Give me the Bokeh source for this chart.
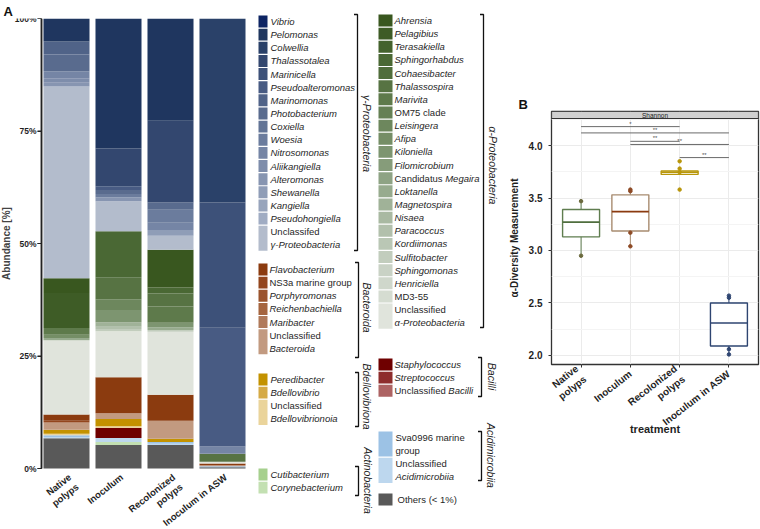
import math
from bokeh.plotting import figure
from bokeh.layouts import row
from bokeh.models import ColumnDataSource, FixedTicker, Range1d, LinearAxis
from bokeh.core.properties import value
from bokeh.embed import file_html
from bokeh.resources import INLINE

FONT = "Liberation Sans"
TXT = "#1f1f1f"
H = 529
ROT = 0.66  # tick label rotation (rad)

# ------------------------------------------------------------------ data
samples = ["Native\npolyps", "Inoculum", "Recolonized\npolyps", "Inoculum in ASW"]
abundance_ticks = [0, 25, 50, 75, 100]
abundance_tick_labels = ["0%", "25%", "50%", "75%", "100%"]

gamma_name = "γ-Proteobacteria"
gamma_labels = ["*Vibrio*", "*Pelomonas*", "*Colwellia*", "*Thalassotalea*", "*Marinicella*",
                "*Pseudoalteromonas*", "*Marinomonas*", "*Photobacterium*", "*Coxiella*", "*Woesia*",
                "*Nitrosomonas*", "*Aliikangiella*", "*Alteromonas*", "*Shewanella*", "*Kangiella*",
                "*Pseudohongiella*", "Unclassifed|*γ-Proteobacteria*"]
gamma_colors = ["#0d2463", "#1f365f", "#2a4169", "#33476f", "#3d5179", "#485b83", "#506388", "#596b8e",
                "#627496", "#6b7c9d", "#7585a5", "#7e8dab", "#8795b1", "#8f9db7", "#97a4bc", "#a0acc3",
                "#b3bccc"]

alpha_name = "α-Proteobacteria"
alpha_labels = ["*Ahrensia*", "*Pelagibius*", "*Terasakiella*", "*Sphingorhabdus*", "*Cohaesibacter*",
                "*Thalassospira*", "*Marivita*", "OM75 clade", "*Leisingera*", "*Afipa*", "*Kiloniella*",
                "*Filomicrobium*", "Candidatus *Megaira*", "*Loktanella*", "*Magnetospira*", "*Nisaea*",
                "*Paracoccus*", "*Kordiimonas*", "*Sulfitobacter*", "*Sphingomonas*", "*Henriciella*",
                "MD3-55", "Unclassified|*α-Proteobacteria*"]
alpha_colors = ["#39571f", "#3e5c26", "#44622d", "#4a6834", "#506d3b", "#577343", "#5e7a4b", "#658054",
                "#6d875d", "#758e66", "#7d9570", "#869c7a", "#8ea384", "#97ab8e", "#a0b298", "#a9b9a2",
                "#b2c0ac", "#bac7b5", "#c2cdbd", "#c9d2c5", "#cfd7cb", "#d5dcd1", "#e0e4dc"]

bacteroida_name = "Bacteroida"
bacteroida_labels = ["*Flavobacterium*", "NS3a marine group", "*Porphyromonas*", "*Reichenbachiella*",
                     "*Maribacter*", "Unclassified|*Bacteroida*"]
bacteroida_colors = ["#8b3b0f", "#93461d", "#9b542d", "#a5653f", "#b07a5a", "#c29a80"]

bdello_name = "Bdellovibriona"
bdello_labels = ["*Peredibacter*", "*Bdellovibrio*", "Unclassified|*Bdellovibrionoia*"]
bdello_colors = ["#c39200", "#d5aa45", "#ead49b"]

actino_name = "Actinobacteria"
actino_labels = ["*Cutibacterium*", "*Corynebacterium*"]
actino_colors = ["#a6d08e", "#c3e0b2"]

bacilli_name = "Bacilli"
bacilli_labels = ["*Staphylococcus*", "*Streptococcus*", "Unclassified *Bacilli*"]
bacilli_colors = ["#6f0000", "#8e2d2d", "#ad6363"]

acidi_name = "Acidimicrobiia"
acidi_labels = ["Sva0996 marine|group", "Unclassified|*Acidimicrobiia*"]
acidi_colors = ["#9cc2e5", "#bdd7ee"]

others_name = "Others"
others_labels = ["Others (< 1%)"]
others_colors = ["#595959"]

# relative abundance (%) per sample
native_polyps = {
    "Pelomonas": 5.1, "Marinomonas": 2.9, "Photobacterium": 3.8, "Nitrosomonas": 1.5,
    "Aliikangiella": 1.0, "Alteromonas": 0.8, "Unclassifed γ-Proteobacteria": 42.6,
    "Ahrensia": 3.3, "Pelagibius": 7.8, "Marivita": 1.5, "Afipa": 0.7, "Loktanella": 0.5,
    "Unclassified α-Proteobacteria": 16.5,
    "Flavobacterium": 1.4, "NS3a marine group": 0.4, "Unclassified Bacteroida": 1.6,
    "Peredibacter": 0.9, "Unclassified Bdellovibrionoia": 0.3,
    "Sva0996 marine group": 0.4, "Unclassified Acidimicrobiia": 0.3,
    "Others (< 1%)": 6.7}
inoculum = {
    "Pelomonas": 28.9, "Thalassotalea": 8.4, "Pseudoalteromonas": 0.8, "Photobacterium": 0.9,
    "Woesia": 0.8, "Alteromonas": 0.8, "Unclassifed γ-Proteobacteria": 6.7,
    "Sphingorhabdus": 10.2, "Thalassospira": 4.9, "Leisingera": 2.4, "Kiloniella": 2.7,
    "Magnetospira": 1.0, "Paracoccus": 0.5, "Sulfitobacter": 0.5,
    "Unclassified α-Proteobacteria": 10.2,
    "Flavobacterium": 8.0, "Unclassified Bacteroida": 1.3,
    "Peredibacter": 1.6, "Unclassified Bdellovibrionoia": 0.4,
    "Staphylococcus": 2.2, "Unclassified Acidimicrobiia": 0.9, "Corynebacterium": 0.7,
    "Others (< 1%)": 5.2}
recolonized_polyps = {
    "Pelomonas": 22.7, "Thalassotalea": 18.2, "Photobacterium": 1.6, "Woesia": 2.9,
    "Nitrosomonas": 1.6, "Shewanella": 1.3, "Unclassifed γ-Proteobacteria": 3.1,
    "Ahrensia": 8.4, "Sphingorhabdus": 1.3, "Thalassospira": 2.9, "Marivita": 3.6,
    "Kiloniella": 1.0, "Loktanella": 0.6, "Sulfitobacter": 0.4,
    "Unclassified α-Proteobacteria": 14.0,
    "Flavobacterium": 5.8, "Unclassified Bacteroida": 4.0,
    "Peredibacter": 0.7, "Sva0996 marine group": 0.4, "Unclassified Acidimicrobiia": 0.3,
    "Others (< 1%)": 5.2}
inoculum_asw = {
    "Colwellia": 40.9, "Marinicella": 27.8, "Pseudoalteromonas": 26.4, "Nitrosomonas": 1.6,
    "Thalassospira": 1.8, "Unclassified α-Proteobacteria": 0.4,
    "Flavobacterium": 0.4, "Unclassified Bacteroida": 0.2,
    "Sva0996 marine group": 0.2, "Others (< 1%)": 0.3}
sample_data = [native_polyps, inoculum, recolonized_polyps, inoculum_asw]

# Shannon alpha diversity (panel B)
box_q1 = [3.13, 3.185, 3.725, 2.09]
box_median = [3.27, 3.37, 3.745, 2.31]
box_q3 = [3.39, 3.53, 3.757, 2.50]
whisker_lo = [2.95, 3.04, 3.725, 2.02]
whisker_hi = [3.47, 3.58, 3.757, 2.57]
point_group = [0, 0, 1, 1, 1, 1, 2, 2, 2, 2, 3, 3, 3, 3]
point_value = [3.47, 2.95, 3.58, 3.565, 3.17, 3.04, 3.85, 3.78, 3.745, 3.58, 2.57, 2.55, 2.06, 2.01]
sig_from = [0, 0, 1, 1, 2]
sig_to = [2, 3, 2, 3, 3]
sig_level = [4.18, 4.12, 4.04, 4.01, 3.885]
sig_text = ["*", "**", "**", "**", "**"]
box_line_colors = ["#5f7d4f", "#a88c70", "#b8960a", "#2e4571"]
box_median_colors = ["#4f6e3e", "#8b3a0f", "#b8960a", "#2e4571"]
point_colors = ["#6b6a3e", "#8e4a25", "#b8960a", "#2e4571"]

# ------------------------------------------------------------------ helpers
W = {}
for chars, w in [("abdeghnopqu0123456789", 556), ("ck svxyz", 500), ("fjt", 278), ("il", 222),
                 ("m", 833), ("r-()", 333), ("w", 722), ("ABEKPSVXY", 667), ("CDHNRU", 722),
                 ("FTZ", 611), ("GOQ", 778), ("I", 278), ("J", 500), ("L", 556), ("M", 833), ("W", 944),
                 ("%", 889), ("<", 584)]:
    for c in chars:
        W[c] = w
W[" "] = 278


def text_width(s, size):
    return sum(W.get(c, 556) for c in s) * size / 1000.0


def plain(label):
    return label.replace("*", "").replace("|", " ")


def parse(label):
    out = []
    for line in label.split("|"):
        parts = line.split("*")
        out.append([(t, "italic" if i % 2 else "normal") for i, t in enumerate(parts) if t])
    return out


groups = [
    (gamma_name, gamma_labels, gamma_colors),
    (bacteroida_name, bacteroida_labels, bacteroida_colors),
    (bdello_name, bdello_labels, bdello_colors),
    (actino_name, actino_labels, actino_colors),
    (alpha_name, alpha_labels, alpha_colors),
    (bacilli_name, bacilli_labels, bacilli_colors),
    (acidi_name, acidi_labels, acidi_colors),
    (others_name, others_labels, others_colors),
]
# stacking order bottom -> top
stack_order = [others_name, actino_name, acidi_name, bacilli_name, bdello_name, bacteroida_name,
               alpha_name, gamma_name]
gmap = {g[0]: g for g in groups}
stackers, stack_colors = [], []
for gname in stack_order:
    _, labels, colors = gmap[gname]
    for lab, col in reversed(list(zip(labels, colors))):
        stackers.append(plain(lab))
        stack_colors.append(col)

# ------------------------------------------------------------------ panel A
src = {"x": list(range(len(samples)))}
for name in stackers:
    src[name] = [d.get(name, 0.0) for d in sample_data]
source = ColumnDataSource(src)

AW = 258
A_TOP = 18                  # frame top (px)
PX_PER_PCT = 4.5            # 100 % -> 450 px
PX_PER_BAR = 52.0           # bar pitch
FIRST_BAR_PX = 66.0
AXIS_PX = 41.0
a_y0 = -(H - A_TOP - 100 * PX_PER_PCT) / PX_PER_PCT
a_x0 = -FIRST_BAR_PX / PX_PER_BAR
a_x1 = a_x0 + AW / PX_PER_BAR
axis_x = a_x0 + AXIS_PX / PX_PER_BAR

pA = figure(width=AW, height=H, x_range=Range1d(a_x0, a_x1), y_range=Range1d(a_y0, 100),
            output_backend="svg", toolbar_location=None, min_border_left=0, min_border_right=0,
            min_border_top=A_TOP, min_border_bottom=0, title="A")
pA.frame_align = False
pA.title.align = "left"
pA.title.offset = 3
pA.title.standoff = 0
pA.title.text_font = FONT
pA.title.text_font_size = "13px"
pA.title.text_font_style = "bold"
pA.title.text_color = "#111111"
pA.vbar_stack(stackers, x="x", width=0.885, color=stack_colors, line_color=None, source=source)
pA.xaxis.visible = False
pA.xgrid.visible = False
pA.ygrid.visible = False
pA.outline_line_color = None
ya = pA.yaxis[0]
ya.fixed_location = axis_x
ya.bounds = (0, 100)
ya.ticker = FixedTicker(ticks=abundance_ticks)
ya.major_label_overrides = dict(zip(abundance_ticks, abundance_tick_labels))
ya.axis_label = "Abundance [%]"
ya.axis_label_text_font = FONT
ya.axis_label_text_font_style = "bold"
ya.axis_label_text_font_size = "10px"
ya.axis_label_standoff = 0
ya.major_label_text_font = FONT
ya.major_label_text_font_style = "bold"
ya.major_label_text_font_size = "8.5px"
ya.major_label_text_color = TXT
ya.major_label_standoff = 1
ya.axis_line_width = 1.5
ya.axis_line_color = "#222222"
ya.major_tick_out = 4
ya.major_tick_in = 0
ya.major_tick_line_color = "#222222"
ya.minor_tick_line_color = None
# axis rule and tick marks (explicit, so they always show next to the fixed-location axis)
tick_len = 4.0 / PX_PER_BAR
pA.segment(x0=[axis_x], x1=[axis_x], y0=[abundance_ticks[0]], y1=[abundance_ticks[-1]],
           line_color="#222222", line_width=1.5)
pA.segment(x0=[axis_x - tick_len] * len(abundance_ticks), x1=[axis_x] * len(abundance_ticks),
           y0=abundance_ticks, y1=abundance_ticks, line_color="#222222", line_width=1.2)

pA.text(x=list(range(len(samples))), y=[-3.0 / PX_PER_PCT] * len(samples), text=samples,
        angle=ROT, text_align="right", text_baseline="top", text_font=value(FONT),
        text_font_style="bold", text_font_size=value("9.5px"), text_color=TXT,
        text_line_height=1.1)

# ------------------------------------------------------------------ legend
LAYOUT = {
    gamma_name: dict(sw=(254, 267), tx=270, y0=21, bx=357, by=(14, 250), lab=(366, 133)),
    bacteroida_name: dict(sw=(254, 267), tx=269, y0=269, bx=358, by=(262, 357), lab=(366, 307)),
    bdello_name: dict(sw=(254, 267), tx=270, y0=379, bx=358, by=(372, 426), lab=(366, 396)),
    actino_name: dict(sw=(254, 267), tx=270, y0=474, bx=358, by=(466, 495), lab=(367, 480)),
    alpha_name: dict(sw=(378, 392), tx=394, y0=20, bx=483, by=(14, 327), lab=(492, 165)),
    bacilli_name: dict(sw=(378, 392), tx=394, y0=364, bx=481, by=(357, 396), lab=(491, 376)),
    acidi_name: dict(sw=(378, 392), tx=395, y0=437, bx=481, by=(431, 480), lab=(490, 455)),
    others_name: dict(sw=(378, 392), tx=397, y0=499, bx=None),
}
PITCH = 13.14
FS = 9.5
LX0, LX1 = AW, 505

pL = figure(width=LX1 - LX0, height=H, x_range=Range1d(LX0, LX1), y_range=Range1d(H, 0),
            output_backend="svg", toolbar_location=None, x_axis_type=None, y_axis_type=None,
            min_border=0)
pL.frame_align = False
pL.outline_line_color = None
sw = dict(left=[], right=[], top=[], bottom=[], color=[])
tx = dict(x=[], y=[], text=[], style=[])
br_xs, br_ys = [], []
gl = dict(x=[], y=[], text=[])
for gname, labels, colors in groups:
    L = LAYOUT[gname]
    r = 0
    for lab, col in zip(labels, colors):
        lines = parse(lab)
        n = len(lines)
        yc = L["y0"] + r * PITCH
        sw["left"].append(L["sw"][0]); sw["right"].append(L["sw"][1])
        sw["top"].append(yc - PITCH / 2 + 0.6); sw["bottom"].append(yc - PITCH / 2 + n * PITCH - 0.6)
        sw["color"].append(col)
        for k, runs in enumerate(lines):
            xo = L["tx"]
            for t, st in runs:
                tx["x"].append(xo); tx["y"].append(yc + k * PITCH)
                tx["text"].append(t); tx["style"].append(st)
                xo += text_width(t, FS)
        r += n
    if L["bx"] is not None:
        bx, (b0, b1) = L["bx"], L["by"]
        br_xs.append([bx - 3.5, bx, bx, bx - 3.5]); br_ys.append([b0, b0, b1, b1])
        gl["x"].append(L["lab"][0]); gl["y"].append(L["lab"][1]); gl["text"].append(gname)

pL.quad(source=ColumnDataSource(sw), left="left", right="right", top="top", bottom="bottom",
        fill_color="color", line_color=None)
pL.text(source=ColumnDataSource(tx), x="x", y="y", text="text", text_font_style="style",
        text_font=value(FONT), text_font_size=value(f"{FS}px"), text_baseline="middle",
        text_align="left", text_color=TXT)
pL.multi_line(xs=br_xs, ys=br_ys, line_color="#111111", line_width=1.3)
pL.text(source=ColumnDataSource(gl), x="x", y="y", text="text", angle=-math.pi / 2,
        text_font=value(FONT), text_font_style="italic", text_font_size=value("10.5px"),
        text_baseline="middle", text_align="center", text_color=TXT)

# ------------------------------------------------------------------ panel B
Y0, Y1 = 1.914, 4.324
X0, X1 = -0.6, 3.6
BX = 760 - LX1
B_LEFT = 550 - LX1
B_TOP = 111
TITLE_H = 16
pB = figure(width=BX, height=H, x_range=Range1d(X0, X1), y_range=Range1d(Y0, Y1),
            output_backend="svg", toolbar_location=None, min_border_left=B_LEFT,
            min_border_right=2, min_border_top=B_TOP, min_border_bottom=H - 364, title="B")
pB.frame_align = False
pB.title.align = "left"
pB.title.offset = 12 - B_LEFT
pB.title.standoff = 0
pB.title.text_font = FONT
pB.title.text_font_size = "13px"
pB.title.text_font_style = "bold"
pB.title.text_color = "#111111"
# invisible spacer axis above the frame: keeps the panel title at the top of the figure
spacer = LinearAxis(ticker=FixedTicker(ticks=[]), axis_line_color=None,
                    major_tick_line_color=None, minor_tick_line_color=None,
                    major_tick_out=B_TOP - TITLE_H, major_tick_in=0, minor_tick_out=0,
                    major_label_standoff=0, major_label_text_font_size="0px")
pB.add_layout(spacer, "above")
idx = list(range(len(samples)))
pB.vbar(x=idx, bottom=box_q1, top=box_q3, width=0.75, fill_color="white",
        line_color=box_line_colors, line_width=1.4)
pB.segment(x0=[i - 0.375 for i in idx], x1=[i + 0.375 for i in idx], y0=box_median, y1=box_median,
           line_color=box_median_colors, line_width=1.6)
pB.segment(x0=idx, x1=idx, y0=box_q3, y1=whisker_hi, line_color=box_line_colors, line_width=1.0)
pB.segment(x0=idx, x1=idx, y0=box_q1, y1=whisker_lo, line_color=box_line_colors, line_width=1.0)
pB.scatter(x=point_group, y=point_value, size=3.5, color=[point_colors[g] for g in point_group])
pB.segment(x0=sig_from, x1=sig_to, y0=sig_level, y1=sig_level, line_color="#6a6a6a", line_width=1.0)
pB.text(x=[(a + b) / 2 for a, b in zip(sig_from, sig_to)], y=sig_level, text=sig_text,
        text_font=value(FONT), text_font_size=value("6px"), text_color="#555555",
        text_align="center", text_baseline="bottom")
strip_bottom = Y1 - (Y1 - Y0) * 7.0 / 253.0
pB.quad(left=[X0], right=[X1], bottom=[strip_bottom], top=[Y1], fill_color="#d0d0d0",
        line_color="#333333", line_width=1.2)
pB.text(x=[(X0 + X1) / 2], y=[(strip_bottom + Y1) / 2], text=["Shannon"], text_font=value(FONT),
        text_font_size=value("6.5px"), text_color="#222222", text_align="center",
        text_baseline="middle")
pB.outline_line_color = "#333333"
pB.outline_line_width = 1.3
xb = pB.below[0]
xb.ticker = FixedTicker(ticks=idx)
xb.major_label_overrides = {i: s for i, s in enumerate(samples)}
xb.major_label_orientation = ROT
yb = pB.left[0]
yb.ticker = FixedTicker(ticks=[2.0, 2.5, 3.0, 3.5, 4.0], minor_ticks=[2.25, 2.75, 3.25, 3.75, 4.25])
yb.major_label_overrides = {2.0: "2.0", 2.5: "2.5", 3.0: "3.0", 3.5: "3.5", 4.0: "4.0"}
for ax in (xb, yb):
    ax.axis_line_color = None
    ax.major_tick_out = 3
    ax.major_tick_in = 0
    ax.major_tick_line_color = "#333333"
    ax.minor_tick_line_color = None
    ax.major_label_text_font = FONT
    ax.major_label_text_font_style = "bold"
    ax.major_label_text_font_size = "10px"
    ax.major_label_text_color = TXT
    ax.axis_label_text_font = FONT
    ax.axis_label_text_font_style = "bold"
    ax.axis_label_text_color = TXT
xb.axis_label = "treatment"
xb.axis_label_text_font_size = "11px"
xb.axis_label_standoff = -12
yb.axis_label = "α-Diversity Measurement"
yb.axis_label_text_font_size = "10px"
yb.axis_label_standoff = 6
pB.xgrid.grid_line_color = "#ebebeb"
pB.ygrid.grid_line_color = "#ebebeb"
pB.ygrid.minor_grid_line_color = "#f4f4f4"

layout = row(pA, pL, pB)
open("out.html", "w").write(file_html(layout, INLINE))
